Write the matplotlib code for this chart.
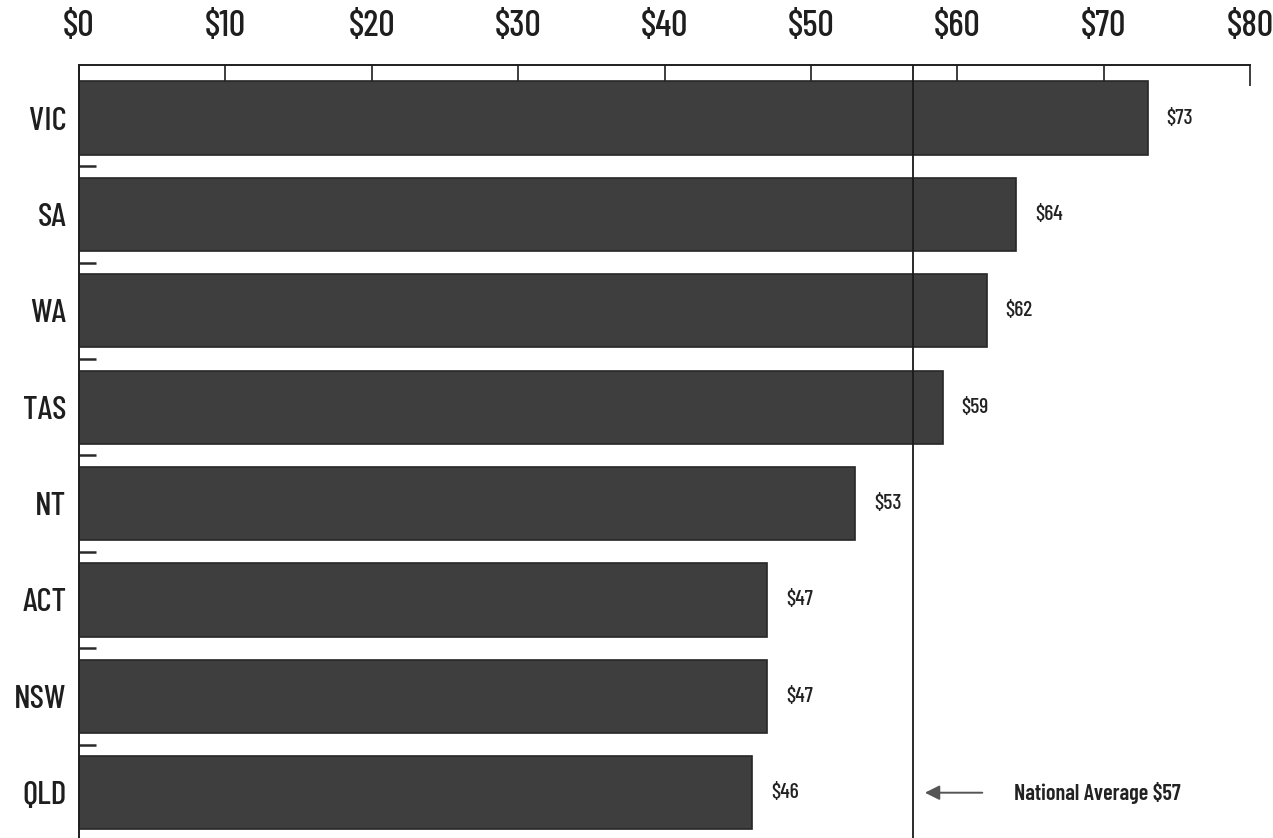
import matplotlib
matplotlib.use("Agg")
import matplotlib.pyplot as plt
from matplotlib import font_manager

states = ["VIC", "SA", "WA", "TAS", "NT", "ACT", "NSW", "QLD"]
costs = [73, 64, 62, 59, 53, 47, 47, 46]
national_average = 57
x_ticks = [0, 10, 20, 30, 40, 50, 60, 70, 80]
x_tick_labels = ["$0", "$10", "$20", "$30", "$40", "$50", "$60", "$70", "$80"]

installed = {f.name for f in font_manager.fontManager.ttflist}
preferred = ["Barlow Condensed", "Oswald", "Pathway Gothic One", "IBM Plex Sans Condensed"]
chosen = [n for n in preferred if n in installed][:1]
plt.rcParams["font.family"] = chosen + ["DejaVu Sans"]

fig = plt.figure(figsize=(12.73, 8.38), dpi=100)
ax = fig.add_axes([79 / 1273, 0.0, 1171 / 1273, 1 - 65 / 838])

pos = list(range(len(states)))
ax.barh(pos, costs, height=0.76, color="#3e3e3e", edgecolor="#262626", linewidth=1.2, zorder=2)

for p, v in zip(pos, costs):
    ax.text(v + 1.3, p, f"${v}", va="center", ha="left", fontsize=15.5,
            fontweight="medium", color="#222222")

ax.axvline(national_average, color="#1a1a1a", linewidth=1.3, zorder=3)
ax.annotate("", xy=(national_average + 0.6, 7.0), xytext=(national_average + 4.9, 7.0),
            arrowprops=dict(arrowstyle="-|>", color="#555555", lw=1.4, mutation_scale=22))
ax.text(national_average + 6.9, 7.0, f"National Average ${national_average}", va="center", ha="left",
        fontsize=16, fontweight="semibold", color="#222222")

ax.set_xlim(0, 80)
ax.set_ylim(len(states) - 0.53, -0.55)

ax.xaxis.tick_top()
ax.set_xticks(x_ticks)
ax.set_xticklabels(x_tick_labels, fontsize=26, fontweight="medium", color="#1e1e1e")
ax.tick_params(axis="x", direction="in", length=15, width=1.2, pad=16, colors="#1e1e1e")

ax.set_yticks(pos)
ax.set_yticklabels(states, fontsize=24, fontweight="medium", color="#1e1e1e")
ax.tick_params(axis="y", length=0, pad=9)
ax.set_yticks([p + 0.5 for p in pos[:-1]], minor=True)
ax.tick_params(axis="y", which="minor", direction="in", length=12, width=1.8, colors="#2a2a2a")

for side in ("bottom", "right"):
    ax.spines[side].set_visible(False)
for side in ("top", "left"):
    ax.spines[side].set_linewidth(1.4)
    ax.spines[side].set_color("#1e1e1e")

fig.savefig("out.png", dpi=100)
